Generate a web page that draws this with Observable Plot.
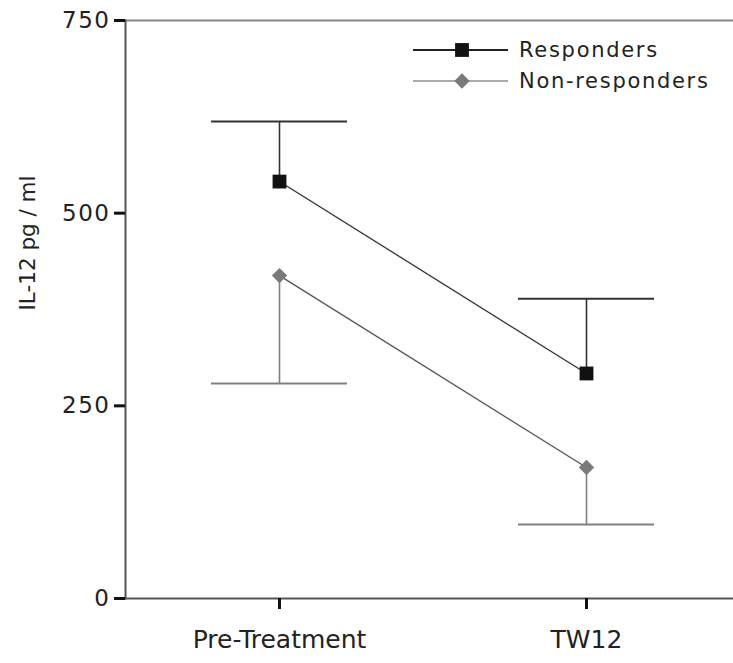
<!DOCTYPE html>
<html>
<head>
<meta charset="utf-8">
<script src="https://cdn.jsdelivr.net/npm/d3@7"></script>
<script src="https://cdn.jsdelivr.net/npm/@observablehq/plot@0.6"></script>
<style>
  html, body { margin: 0; padding: 0; background: #fff; }
  #wrap { position: relative; width: 733px; height: 663px; }
  #overlay { position: absolute; left: 0; top: 0; pointer-events: none; }
  #wrap svg text { font-family: "DejaVu Sans", sans-serif; }
  #wrap g[aria-label="y-axis tick label"] text { font-size: 23px !important; letter-spacing: 1.5px; }
  #wrap g[aria-label="x-axis tick label"] text { font-size: 25px !important; }
</style>
</head>
<body>
<div id="wrap"></div>
<script>
// ---- data ----
const timepoints = ["Pre-Treatment", "TW12"];
const seriesNames = ["Responders", "Non-responders"];
const respondersMean = [541, 292];
const respondersUpper = [619, 389];      // upper error limit
const nonRespondersMean = [419, 170];
const nonRespondersLower = [279, 96];    // lower error limit
const yTicks = [0, 250, 500, 750];
const yLabel = "IL-12 pg / ml";

// ---- styling ----
const seriesStyle = {
  "Responders":     {line: "#333", bar: "#333", fill: "#111", symbol: "square",   d3sym: d3.symbolSquare,   r: 7.8, legendLine: "#222"},
  "Non-responders": {line: "#555", bar: "#808080", fill: "#7a7a7a", symbol: "diamond2", d3sym: d3.symbolDiamond2, r: 6.9, legendLine: "#aaa"}
};

const resp = timepoints.map((t, i) => ({time: t, series: "Responders", mean: respondersMean[i], bar: respondersUpper[i]}));
const non = timepoints.map((t, i) => ({time: t, series: "Non-responders", mean: nonRespondersMean[i], bar: nonRespondersLower[i]}));

function seriesMarks(rows, name) {
  const s = seriesStyle[name];
  return [
    Plot.ruleX(rows, {x: "time", y1: "mean", y2: "bar", stroke: s.bar, strokeWidth: 1.6}),
    Plot.tickY(rows, {x: "time", y: "bar", stroke: s.bar, strokeWidth: 2}),
    Plot.line(rows, {x: "time", y: "mean", stroke: s.line, strokeWidth: 1.3}),
    Plot.dot(rows, {x: "time", y: "mean", symbol: s.symbol, r: s.r, fill: s.fill, stroke: "none"})
  ];
}

const chart = Plot.plot({
  width: 733,
  height: 663,
  marginLeft: 125,
  marginRight: 0,
  marginTop: 20,
  marginBottom: 65,
  style: {fontFamily: "DejaVu Sans", fontSize: "22px", color: "#222", background: "#fff"},
  x: {type: "band", domain: timepoints, paddingInner: 0.557, paddingOuter: 0.2686, align: 0.52},
  y: {domain: [0, 750]},
  marks: [
    Plot.ruleY([0], {stroke: "#555", strokeWidth: 2}),
    Plot.ruleY([750], {stroke: "#888", strokeWidth: 2}),
    Plot.frame({anchor: "left", stroke: "#555", strokeWidth: 2}),
    ...seriesMarks(resp, "Responders"),
    ...seriesMarks(non, "Non-responders"),
    Plot.axisY({ticks: yTicks, tickSize: 11, tickPadding: 4, stroke: "#111", strokeWidth: 3, fill: "#222", label: null}),
    Plot.axisX({tickSize: 11, tickPadding: 21, stroke: "#111", strokeWidth: 3, fill: "#222", label: null})
  ]
});

const wrap = document.getElementById("wrap");
wrap.appendChild(chart);

// ---- overlay: legend and y-axis title ----
const ov = d3.select(wrap).append("svg")
  .attr("id", "overlay").attr("width", 733).attr("height", 663);

ov.append("text")
  .attr("transform", "translate(27,243) rotate(-90)")
  .attr("text-anchor", "middle")
  .attr("dominant-baseline", "central")
  .attr("fill", "#222")
  .style("font-size", "21.5px")
  .text(yLabel);

const leg = ov.append("g").attr("transform", "translate(413,50)");
seriesNames.forEach((name, i) => {
  const s = seriesStyle[name];
  const g = leg.append("g").attr("transform", `translate(0,${i * 31})`);
  g.append("line").attr("x1", 0).attr("x2", 95).attr("y1", 0).attr("y2", 0)
    .attr("stroke", s.legendLine).attr("stroke-width", 2);
  g.append("path")
    .attr("transform", "translate(49,0)")
    .attr("d", d3.symbol(s.d3sym, Math.PI * s.r * s.r)())
    .attr("fill", s.fill);
  g.append("text").attr("x", 106).attr("y", 0)
    .attr("dominant-baseline", "central")
    .attr("fill", "#222")
    .style("font-size", "21px")
    .style("letter-spacing", "1.7px")
    .text(name);
});
</script>
</body>
</html>
